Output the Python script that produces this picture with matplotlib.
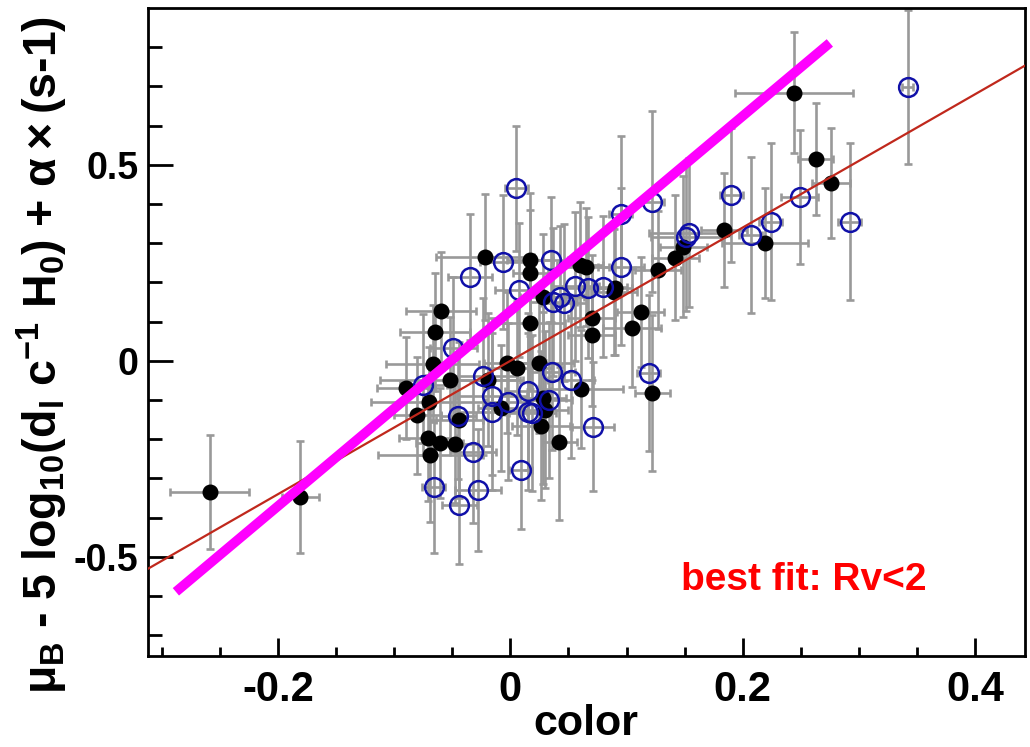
import numpy as np
import matplotlib.pyplot as plt

plt.rcParams['font.family'] = ['Liberation Sans', 'DejaVu Sans']
plt.rcParams['font.weight'] = 'bold'
plt.rcParams['mathtext.fontset'] = 'custom'
plt.rcParams['mathtext.rm'] = 'Liberation Sans:bold'
plt.rcParams['mathtext.it'] = 'Liberation Sans:bold'
plt.rcParams['mathtext.bf'] = 'Liberation Sans:bold'

# filled black points
blk_x = [-0.259, -0.181, -0.090, -0.080, -0.071, -0.069, -0.070, -0.067, -0.065, -0.060,
         -0.061, -0.052, -0.048, -0.044, -0.022, -0.019, -0.008, -0.003, 0.006, 0.017,
         0.017, 0.017, 0.025, 0.028, 0.030, 0.026, 0.028, 0.042, 0.060, 0.065,
         0.061, 0.070, 0.070, 0.089, 0.090, 0.105, 0.112, 0.122, 0.127, 0.142,
         0.149, 0.184, 0.219, 0.244, 0.263, 0.276]
blk_y = [-0.334, -0.347, -0.069, -0.139, -0.197, -0.240, -0.104, -0.007, 0.074, 0.127,
         -0.209, -0.048, -0.212, -0.151, 0.265, -0.048, -0.120, -0.005, -0.018, 0.258,
         0.224, 0.097, -0.005, -0.095, -0.125, -0.166, 0.163, -0.207, 0.245, 0.240,
         -0.072, 0.110, 0.065, 0.175, 0.186, 0.084, 0.125, -0.082, 0.232, 0.263,
         0.291, 0.334, 0.301, 0.684, 0.515, 0.454]
blk_xerr = [0.034, 0.016, 0.025, 0.020, 0.025, 0.045, 0.050, 0.040, 0.030, 0.030,
            0.020, 0.060, 0.020, 0.020, 0.042, 0.030, 0.020, 0.020, 0.030, 0.020,
            0.015, 0.030, 0.030, 0.020, 0.020, 0.025, 0.020, 0.015, 0.020, 0.020,
            0.036, 0.020, 0.020, 0.020, 0.015, 0.025, 0.020, 0.015, 0.020, 0.020,
            0.020, 0.020, 0.037, 0.051, 0.015, 0.016]
blk_yerr = [0.145, 0.143, 0.130, 0.150, 0.160, 0.170, 0.140, 0.150, 0.150, 0.150,
            0.140, 0.160, 0.150, 0.200, 0.160, 0.170, 0.160, 0.180, 0.170, 0.170,
            0.160, 0.170, 0.180, 0.220, 0.200, 0.190, 0.160, 0.200, 0.160, 0.150,
            0.150, 0.160, 0.180, 0.160, 0.170, 0.150, 0.140, 0.200, 0.150, 0.160,
            0.180, 0.145, 0.140, 0.155, 0.143, 0.140]

# open blue circles
blu_x = [0.005, -0.035, -0.006, 0.007, 0.035, 0.095, 0.122, 0.190, 0.249, 0.224,
         0.207, 0.292, 0.342, 0.154, 0.151, 0.095, 0.080, 0.043, 0.046, 0.037,
         0.056, 0.067, 0.119, 0.036, 0.052, 0.033, 0.019, 0.071, -0.049, -0.075,
         -0.024, -0.016, -0.016, -0.002, 0.015, 0.015, -0.045, -0.032, 0.009, -0.066,
         -0.028, -0.044]
blu_y = [0.440, 0.214, 0.252, 0.181, 0.258, 0.374, 0.406, 0.423, 0.418, 0.355,
         0.321, 0.355, 0.699, 0.327, 0.316, 0.240, 0.189, 0.163, 0.148, 0.150,
         0.190, 0.186, -0.031, -0.028, -0.048, -0.100, -0.133, -0.168, 0.033, -0.061,
         -0.040, -0.091, -0.130, -0.104, -0.078, -0.130, -0.142, -0.233, -0.278, -0.321,
         -0.329, -0.368]
blu_xerr = [0.010, 0.019, 0.020, 0.020, 0.015, 0.010, 0.010, 0.010, 0.016, 0.010,
            0.010, 0.010, 0.005, 0.035, 0.030, 0.020, 0.020, 0.020, 0.020, 0.020,
            0.020, 0.020, 0.010, 0.020, 0.020, 0.020, 0.020, 0.018, 0.020, 0.020,
            0.030, 0.030, 0.030, 0.020, 0.020, 0.020, 0.015, 0.020, 0.010, 0.010,
            0.020, 0.015]
blu_yerr = [0.160, 0.160, 0.170, 0.170, 0.160, 0.200, 0.230, 0.170, 0.170, 0.200,
            0.200, 0.200, 0.196, 0.190, 0.190, 0.200, 0.180, 0.180, 0.200, 0.190,
            0.190, 0.180, 0.200, 0.200, 0.200, 0.200, 0.200, 0.165, 0.180, 0.180,
            0.200, 0.200, 0.200, 0.200, 0.200, 0.200, 0.160, 0.180, 0.150, 0.170,
            0.156, 0.150]

# fit lines: slope, intercept
red_fit = (1.70, 0.0)
mag_fit = (2.487, 0.127)
mag_range = (-0.288, 0.275)

fig = plt.figure(figsize=(10.3, 7.47), dpi=100)
ax = fig.add_axes([148 / 1030, 1 - 656 / 747, (1025 - 148) / 1030, (656 - 8) / 747])

ebar_style = dict(fmt='none', ecolor='#999999', elinewidth=1.9, capsize=3, capthick=1.9)
ax.errorbar(blk_x, blk_y, xerr=blk_xerr, yerr=blk_yerr, zorder=1, **ebar_style)
ax.errorbar(blu_x, blu_y, xerr=blu_xerr, yerr=blu_yerr, zorder=1, **ebar_style)

ax.plot(blk_x, blk_y, 'o', color='black', ms=10.5, zorder=3)
ax.plot(blu_x, blu_y, 'o', mfc='none', mec='#1010a8', mew=1.8, ms=13.5, zorder=3)

xl = (-0.312, 0.443)
xr = np.array(xl)
ax.plot(xr, red_fit[0] * xr + red_fit[1], color='#c0281c', lw=1.6, zorder=5)
xm = np.array(mag_range)
ax.plot(xm, mag_fit[0] * xm + mag_fit[1], color='#ff00ff', lw=7, zorder=6,
        solid_capstyle='butt')

ax.text(0.147, -0.584, 'best fit: Rv<2', color='red', fontsize=28, fontweight='bold',
        va='baseline', ha='left')

ax.set_xlim(*xl)
ax.set_ylim(-0.753, 0.900)
ax.set_xticks([-0.2, 0, 0.2, 0.4])
ax.set_xticklabels(['-0.2', '0', '0.2', '0.4'])
ax.set_xticks(np.arange(-0.30, 0.44, 0.05), minor=True)
ax.set_yticks([-0.5, 0, 0.5])
ax.set_yticklabels(['-0.5', '0', '0.5'])
ax.set_yticks(np.arange(-0.7, 0.9, 0.1), minor=True)

for s in ax.spines.values():
    s.set_linewidth(2)
ax.tick_params(axis='both', which='both', direction='in', width=2, top=False, right=False)
ax.tick_params(axis='y', which='major', length=18, labelsize=27, pad=7)
ax.tick_params(axis='y', which='minor', length=10)
ax.tick_params(axis='x', which='major', length=13, labelsize=30, pad=10)
ax.tick_params(axis='x', which='minor', length=6.5)

fig.text(586 / 1030, 1 - 724 / 747, 'color', fontsize=31, fontweight='bold',
         ha='center', va='center')
fig.text(42 / 1030, 1 - 355 / 747,
         r'$\mu_{B}$ - 5 log$_{10}$(d$_{l}$ c$^{-1}$ H$_{0}$) + $\alpha\times$(s-1)',
         fontsize=33.5, fontweight='bold', rotation=90, ha='center', va='center')

fig.savefig('out.png', dpi=100)
